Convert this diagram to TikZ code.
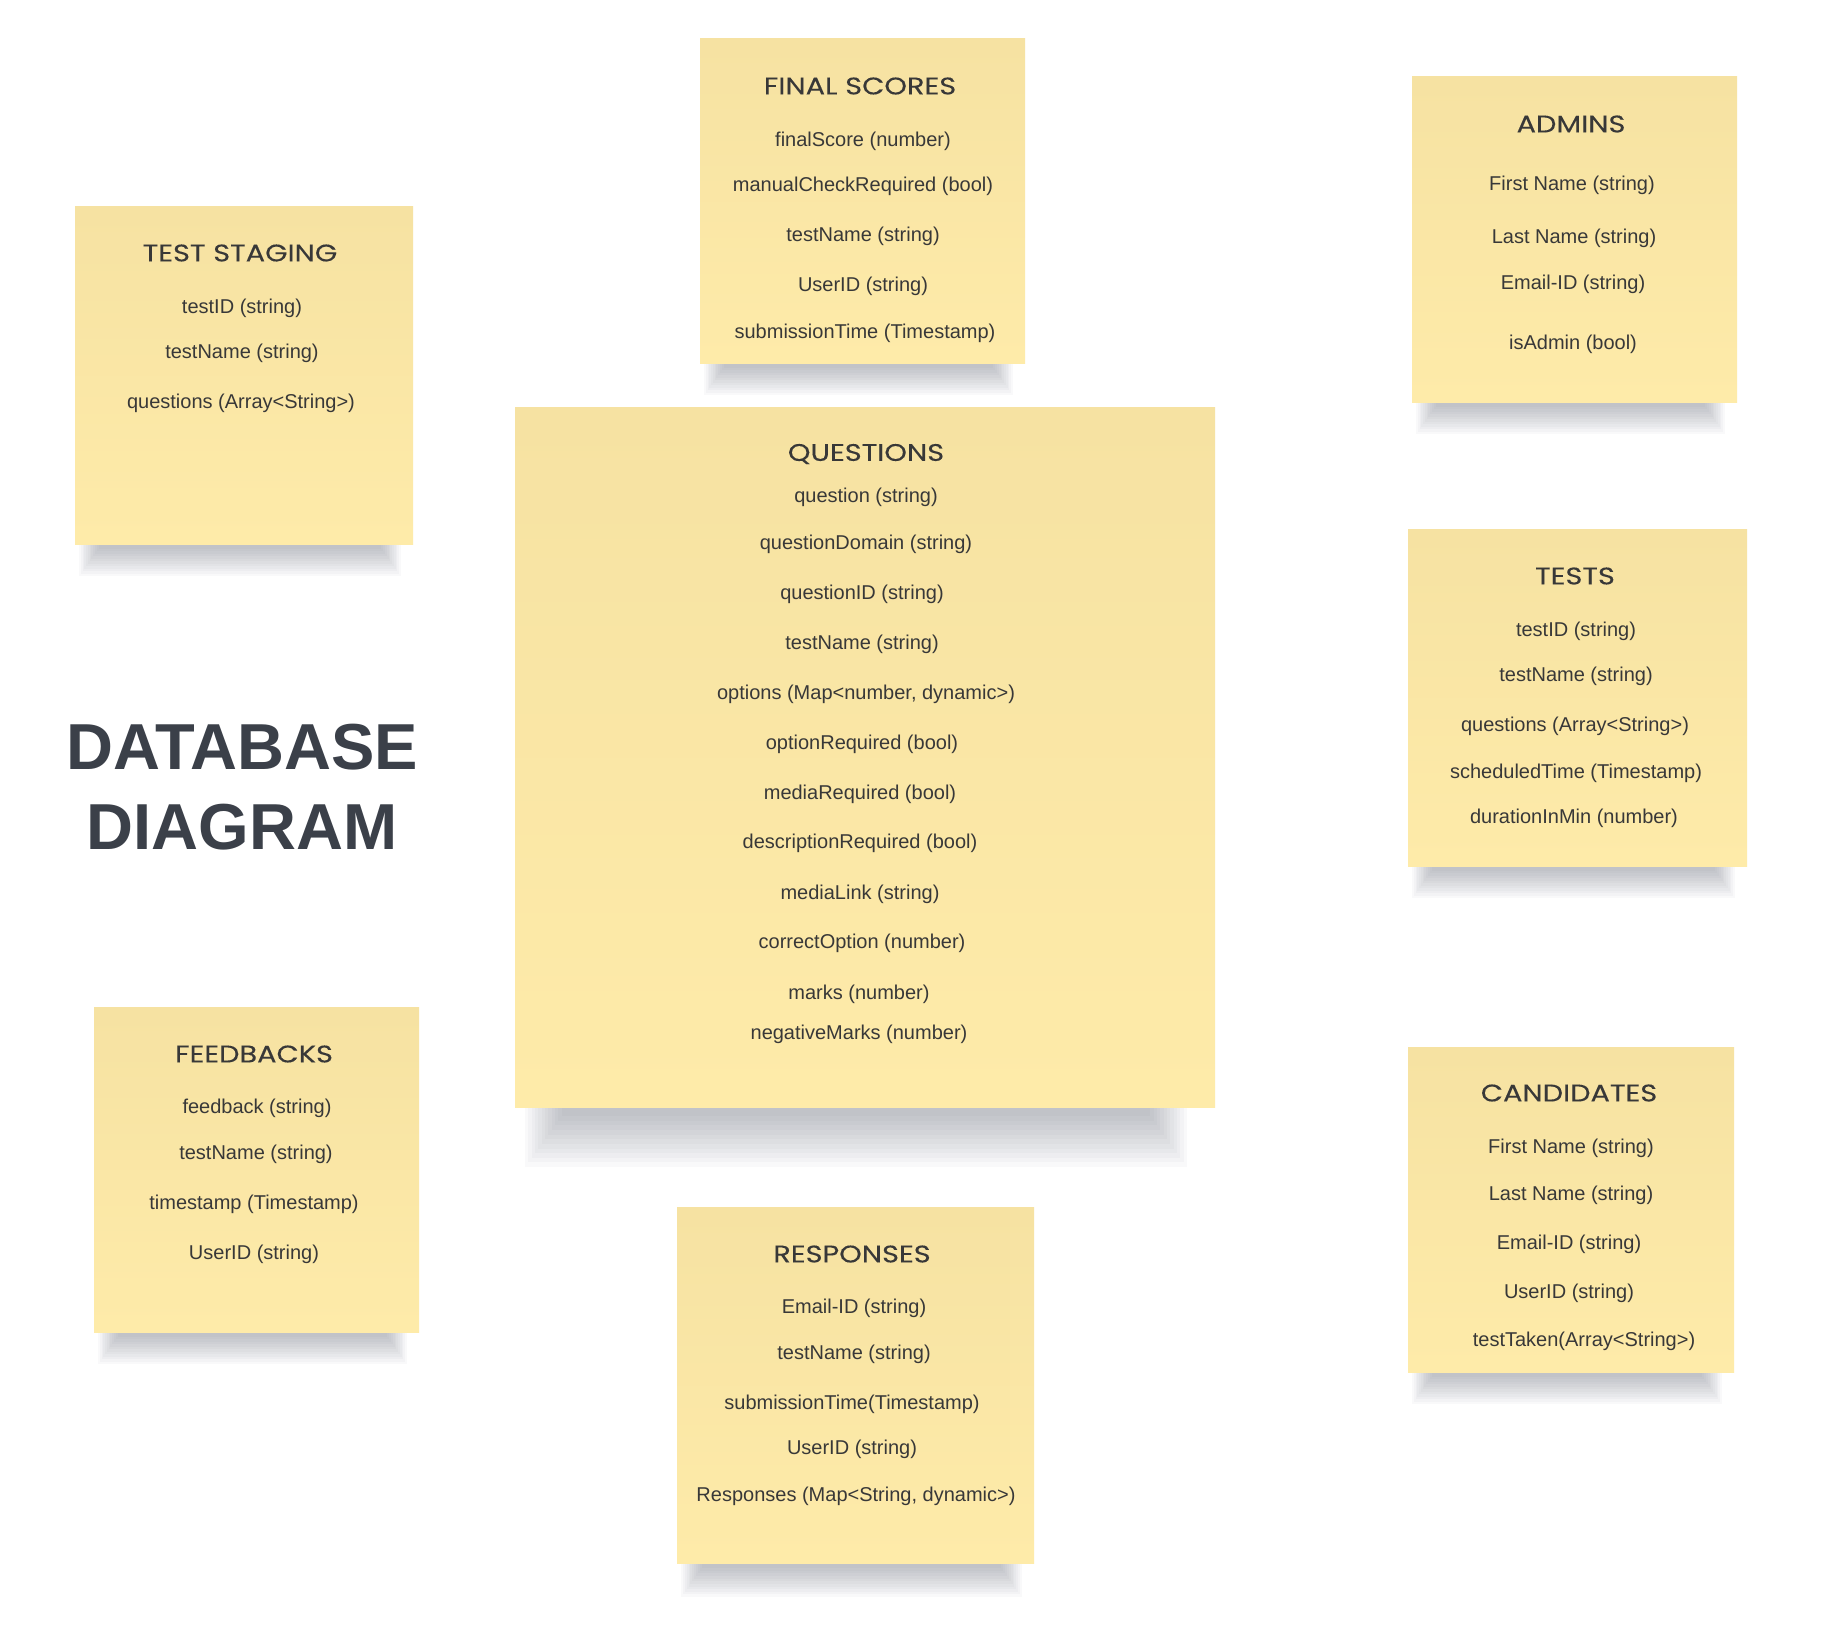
\documentclass[tikz,border=0pt]{standalone}
\usepackage{fontspec}
\setmainfont{Liberation Sans}
\newfontfamily\headfont[FakeStretch=1.2,FakeBold=0.15]{Poppins}
\definecolor{notetop}{HTML}{F6E2A2}
\definecolor{notebot}{HTML}{FEEBA9}
\definecolor{txt}{HTML}{383838}
\definecolor{titlec}{HTML}{3B4049}
\definecolor{shadowc}{HTML}{4A5060}
% #1 name, #2 L, #3 T, #4 R, #5 B, #6 shadow depth, #7 left inset, #8 right inset
\newcommand\stickynote[8]{%
  \foreach \i in {0,...,11}{%
    \fill[shadowc, opacity=0.032] ({#2+#7+\i*#6/18},{#5-5}) rectangle ({#4-#8-\i*#6/18},{#5+#6-\i*#6/13});
  }%
  \node[note, minimum width={(#4-#2)*1pt}, minimum height={(#5-#3)*1pt}, anchor=north west] (#1) at (#2,#3) {};
}
\begin{document}
\begin{tikzpicture}[x=1pt,y=-1pt,
  note/.style={inner sep=0pt, outer sep=0pt, top color=notetop, bottom color=notebot, draw=none},
  hdr/.style={font=\headfont\fontsize{24}{28}\selectfont, text=txt, inner sep=0pt},
  fld/.style={font=\fontsize{20}{24}\selectfont, text=txt, inner sep=0pt},
  bigtitle/.style={font=\bfseries\fontsize{65}{80}\selectfont, text=titlec, inner sep=0pt}
]
\useasboundingbox[fill=white] (0,0) rectangle (1822,1645);

% notes
\stickynote{finalscores}{700}{39}{1025}{363}{32}{4}{12}
\stickynote{teststaging}{75}{207}{413}{544}{32}{4}{12}
\stickynote{admins}{1412}{77}{1737}{402}{32}{4}{12}
\stickynote{questions}{515}{407}{1215}{1107}{60}{10}{28}
\stickynote{tests}{1408}{529}{1747}{866}{32}{4}{12}
\stickynote{candidates}{1408}{1047}{1734}{1372}{32}{4}{12}
\stickynote{feedbacks}{94}{1007}{419}{1332}{32}{4}{12}
\stickynote{responses}{677}{1207}{1034}{1563}{34}{4}{12}

% title
\node[bigtitle] (title1) at (242,747) {DATABASE};
\node[bigtitle] (title2) at (242,827) {DIAGRAM};

% FINAL SCORES
\node[hdr] (fs-h) at (860,86) {FINAL SCORES};
\node[fld] (fs-1) at (863,141) {finalScore (number)};
\node[fld] (fs-2) at (863,186) {manualCheckRequired (bool)};
\node[fld] (fs-3) at (863,236) {testName (string)};
\node[fld] (fs-4) at (863,286) {UserID (string)};
\node[fld] (fs-5) at (865,333) {submissionTime (Timestamp)};

% TEST STAGING
\node[hdr] (ts-h) at (240,253) {TEST STAGING};
\node[fld] (ts-1) at (242,308) {testID (string)};
\node[fld] (ts-2) at (242,353) {testName (string)};
\node[fld] (ts-3) at (241,403) {questions (Array<String>)};

% ADMINS
\node[hdr] (ad-h) at (1571,124) {ADMINS};
\node[fld] (ad-1) at (1572,185) {First Name (string)};
\node[fld] (ad-2) at (1574,238) {Last Name (string)};
\node[fld] (ad-3) at (1573,284) {Email-ID (string)};
\node[fld] (ad-4) at (1573,344) {isAdmin (bool)};

% QUESTIONS
\node[hdr] (q-h) at (866,454) {QUESTIONS};
\node[fld] (q-1) at (866,497) {question (string)};
\node[fld] (q-2) at (866,544) {questionDomain (string)};
\node[fld] (q-3) at (862,594) {questionID (string)};
\node[fld] (q-4) at (862,644) {testName (string)};
\node[fld] (q-5) at (866,694) {options (Map<number, dynamic>)};
\node[fld] (q-6) at (862,744) {optionRequired (bool)};
\node[fld] (q-7) at (860,794) {mediaRequired (bool)};
\node[fld] (q-8) at (860,843) {descriptionRequired (bool)};
\node[fld] (q-9) at (860,894) {mediaLink (string)};
\node[fld] (q-10) at (862,943) {correctOption (number)};
\node[fld] (q-11) at (859,994) {marks (number)};
\node[fld] (q-12) at (859,1034) {negativeMarks (number)};

% TESTS
\node[hdr] (t-h) at (1575,576) {TESTS};
\node[fld] (t-1) at (1576,631) {testID (string)};
\node[fld] (t-2) at (1576,676) {testName (string)};
\node[fld] (t-3) at (1575,726) {questions (Array<String>)};
\node[fld] (t-4) at (1576,773) {scheduledTime (Timestamp)};
\node[fld] (t-5) at (1574,818) {durationInMin (number)};

% CANDIDATES
\node[hdr] (c-h) at (1569,1093) {CANDIDATES};
\node[fld] (c-1) at (1571,1148) {First Name (string)};
\node[fld] (c-2) at (1571,1195) {Last Name (string)};
\node[fld] (c-3) at (1569,1244) {Email-ID (string)};
\node[fld] (c-4) at (1569,1293) {UserID (string)};
\node[fld] (c-5) at (1584,1341) {testTaken(Array<String>)};

% FEEDBACKS
\node[hdr] (f-h) at (254,1054) {FEEDBACKS};
\node[fld] (f-1) at (257,1108) {feedback (string)};
\node[fld] (f-2) at (256,1154) {testName (string)};
\node[fld] (f-3) at (254,1204) {timestamp (Timestamp)};
\node[fld] (f-4) at (254,1254) {UserID (string)};

% RESPONSES
\node[hdr] (r-h) at (852,1254) {RESPONSES};
\node[fld] (r-1) at (854,1308) {Email-ID (string)};
\node[fld] (r-2) at (854,1354) {testName (string)};
\node[fld] (r-3) at (852,1404) {submissionTime(Timestamp)};
\node[fld] (r-4) at (852,1449) {UserID (string)};
\node[fld] (r-5) at (856,1496) {Responses (Map<String, dynamic>)};
\end{tikzpicture}
\end{document}
